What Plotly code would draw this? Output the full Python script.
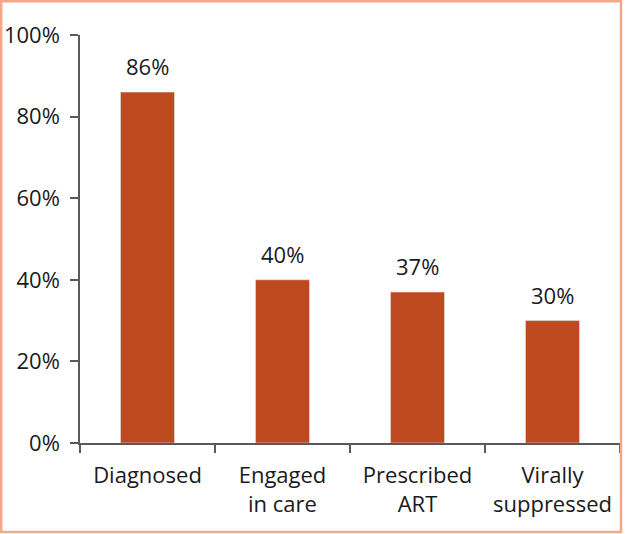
import plotly.graph_objects as go

categories = ["Diagnosed", "Engaged<br>in care", "Prescribed<br>ART", "Virally<br>suppressed"]
values = [86, 40, 37, 30]
labels = ["86%", "40%", "37%", "30%"]
y_ticks = [0, 20, 40, 60, 80, 100]
y_tick_text = ["0%", "20%", "40%", "60%", "80%", "100%"]

W, H = 625, 534
L, R, T, B = 80, 5, 35, 91
pw, ph = W - L - R, H - T - B

fig = go.Figure(go.Bar(
    x=categories, y=values,
    marker_color="#BE4B1F", width=0.4,
))
for c, v, t in zip(categories, values, labels):
    fig.add_annotation(x=c, y=v, text=t, showarrow=False, yanchor="bottom",
                       yshift=9, font=dict(size=22, color="#1a1a1a"))

axis_color = "#595959"
fig.update_layout(
    width=W, height=H,
    margin=dict(l=L, r=R, t=T, b=B),
    plot_bgcolor="white", paper_bgcolor="white",
    font=dict(family="Open Sans, Liberation Sans, sans-serif", size=22, color="#1a1a1a"),
    showlegend=False,
    xaxis=dict(
        showline=True, linecolor=axis_color, linewidth=1.5,
        ticks="outside", tickson="boundaries", ticklen=8, tickcolor=axis_color, tickwidth=1.5,
        showgrid=False, tickfont=dict(size=22), automargin=False,
        ticklabelstandoff=12,
    ),
    yaxis=dict(
        range=[0, 100], tickvals=y_ticks, ticktext=y_tick_text,
        showline=True, linecolor=axis_color, linewidth=1.5,
        ticks="outside", ticklen=8, tickcolor=axis_color, tickwidth=1.5,
        showgrid=False, zeroline=False, tickfont=dict(size=22),
        ticklabelstandoff=6, automargin=False,
    ),
    shapes=[dict(
        type="rect", xref="paper", yref="paper",
        x0=(1.2 - L) / pw, x1=(621 - L) / pw,
        y0=-(B - 2) / ph, y1=(ph + T - 1.2) / ph,
        line=dict(color="#F4A88A", width=2.5), layer="above",
    )],
)

fig.write_html("out.html", config={"displayModeBar": False},
               post_script="document.body.style.margin='0';")
